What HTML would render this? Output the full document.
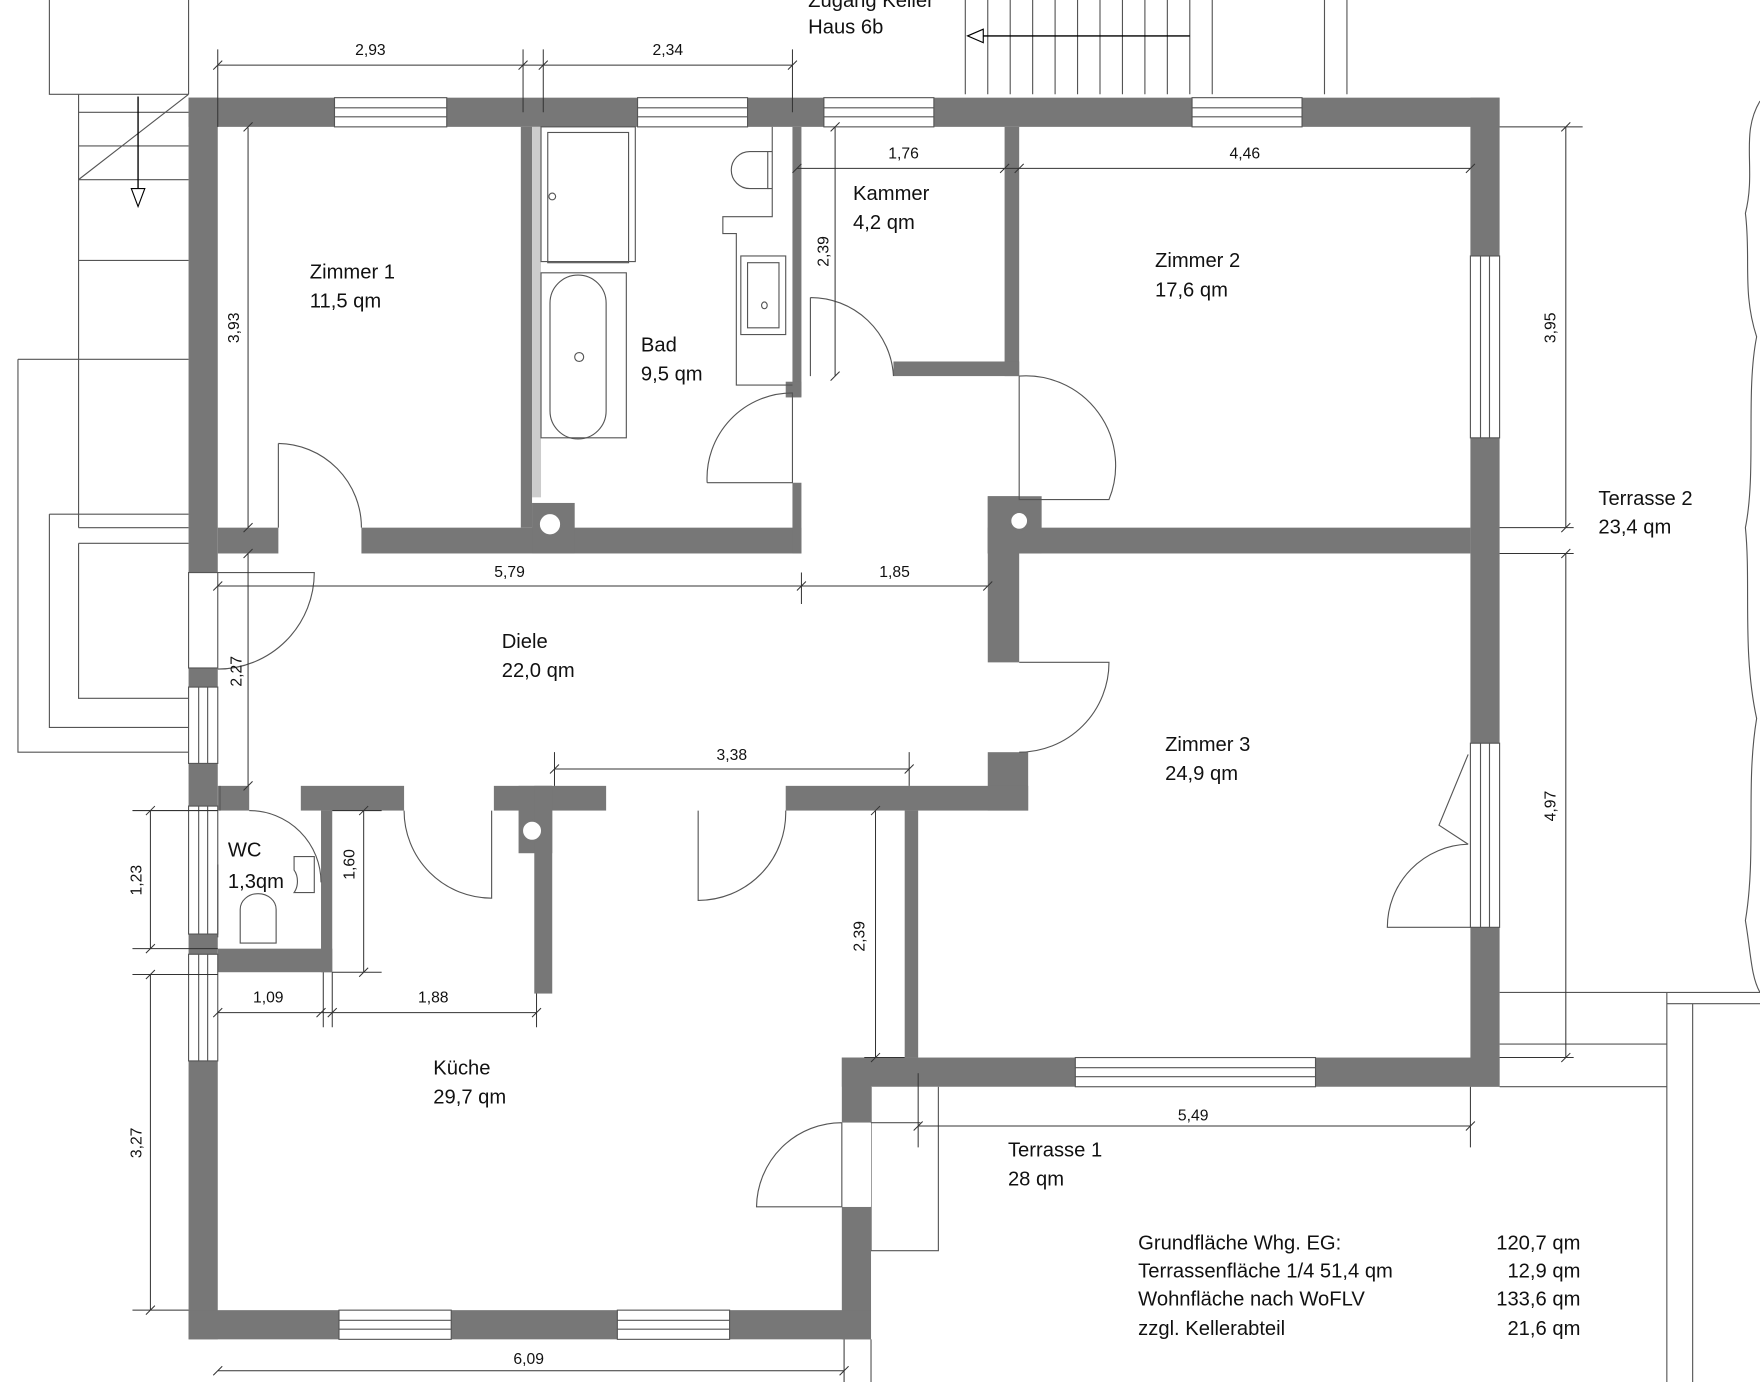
<!DOCTYPE html>
<html><head><meta charset="utf-8"><style>
html,body{margin:0;padding:0;background:#fff;}
svg{display:block;}
text{font-family:"Liberation Sans",sans-serif;fill:#111;}
.l{font-size:18px;}
.d{font-size:14px;}
</style></head><body>
<svg width="1760" height="1382" viewBox="0 0 1568 1231" preserveAspectRatio="none" xmlns="http://www.w3.org/2000/svg">
<g fill="none" stroke="#555" stroke-width="1">
<path d="M44 0V84H168M70 84V470M70 160H168M70 232H168M70 470H168M70 160L168 84"/>
<path d="M70 130H168M70 100H168"/>
<path d="M16 320H168M16 320V670H168M44 458H168M44 458V648H168M70 484H168M70 484V622H168"/>
<path d="M168 0V84M860 0V84M1200 0V84M1180 0V84M880 0V84M900 0V84M920 0V84M940 0V84M960 0V84M980 0V84M1000 0V84M1020 0V84M1040 0V84M1060 0V84M1080 0V84"/>
<path d="M1336 884H1485M1336 930H1485M1336 968H1485M1485 884V1231M1508 894V1231M1485 884H1568M1485 894H1568"/>
<path d="M1568 90C1550 120 1565 150 1555 190C1560 230 1552 260 1565 300C1555 350 1565 420 1555 470C1560 520 1552 580 1565 640C1555 700 1565 760 1555 820C1560 850 1560 870 1568 884"/>
<path d="M776 968V1114H836V968M776 1000H820"/>
<path d="M776 1193V1231"/>
</g>
<path d="M123 86V180" stroke="#000" stroke-width="1.2"/><path d="M117 168L123 184L129 168Z" fill="#fff" stroke="#000"/>
<path d="M1060 32H864" stroke="#000" stroke-width="1.2"/><path d="M876 26L862 32L876 38Z" fill="#fff" stroke="#000"/>
<g fill="#777">
<rect x="168" y="87" width="1168" height="26"/>
<rect x="168" y="87" width="26" height="1106"/>
<rect x="1310" y="87" width="26" height="881"/>
<rect x="750" y="942" width="586" height="26"/>
<rect x="750" y="942" width="26" height="58"/>
<rect x="750" y="1075" width="26" height="118"/>
<rect x="168" y="1167" width="608" height="26"/>
<rect x="464" y="113" width="10" height="357"/>
<rect x="194" y="470" width="54" height="23"/>
<rect x="322" y="470" width="392" height="23"/>
<rect x="474" y="448" width="38" height="45"/>
<rect x="706" y="113" width="8" height="240"/>
<rect x="700" y="340" width="14" height="14"/>
<rect x="706" y="430" width="8" height="63"/>
<rect x="895" y="113" width="13" height="222"/>
<rect x="796" y="322" width="112" height="13"/>
<rect x="880" y="470" width="430" height="23"/>
<rect x="880" y="442" width="48" height="51"/>
<rect x="880" y="442" width="28" height="148"/>
<rect x="880" y="670" width="36" height="52"/>
<rect x="194" y="700" width="28" height="22"/>
<rect x="268" y="700" width="92" height="22"/>
<rect x="440" y="700" width="100" height="22"/>
<rect x="700" y="700" width="216" height="22"/>
<rect x="462" y="700" width="30" height="60"/>
<rect x="476" y="700" width="16" height="185"/>
<rect x="806" y="722" width="12" height="220"/>
<rect x="286" y="722" width="10" height="144"/>
<rect x="194" y="845" width="102" height="21"/>
</g>
<rect x="474" y="113" width="8" height="330" fill="#ccc"/>
<g fill="#fff" stroke="#777" stroke-width="2"><circle cx="490" cy="467" r="10"/><circle cx="908" cy="464" r="8"/><circle cx="474" cy="740" r="9"/></g>
<g fill="#fff" stroke="#555" stroke-width="1">
<rect x="298" y="87" width="100" height="26"/><rect x="568" y="87" width="98" height="26"/><rect x="734" y="87" width="98" height="26"/><rect x="1062" y="87" width="98" height="26"/>
<rect x="1310" y="228" width="26" height="162"/><rect x="1310" y="662" width="26" height="164"/>
<rect x="958" y="942" width="214" height="26"/>
<rect x="302" y="1167" width="100" height="26"/><rect x="550" y="1167" width="100" height="26"/>
<rect x="168" y="510" width="26" height="85"/><rect x="168" y="612" width="26" height="68"/><rect x="168" y="718" width="26" height="114"/><rect x="168" y="850" width="26" height="95"/>
<rect x="750" y="1000" width="26" height="75" stroke="none"/>
</g>
<g stroke="#555" stroke-width="1" fill="none">
<path d="M298 96H398M298 104H398M568 96H666M568 104H666M734 96H832M734 104H832M1062 96H1160M1062 104H1160"/>
<path d="M1319 228V390M1327 228V390M1319 662V826M1327 662V826M958 951H1172M958 959H1172M302 1176H402M302 1184H402M550 1176H650M550 1184H650"/>
<path d="M177 612V680M185 612V680M177 718V832M185 718V832M177 850V945M185 850V945"/>
<path d="M248 395V470M248 395A75 75 0 0 1 322 470"/>
<path d="M194 510H280A86 86 0 0 1 194 596"/>
<path d="M630 430H706V350A76 76 0 0 0 630 430"/>
<path d="M722 265V335M722 265A74 74 0 0 1 796 335"/>
<path d="M908 335V445H988A80 80 0 0 0 908 335"/>
<path d="M908 590H988A80 80 0 0 1 908 670"/>
<path d="M360 722A78 78 0 0 0 438 800V722"/>
<path d="M622 722V802A78 78 0 0 0 700 722"/>
<path d="M222 722A64 64 0 0 1 286 786"/>
<path d="M750 1000V1075H674A76 76 0 0 1 750 1000"/>
<path d="M1310 826H1236A74 74 0 0 1 1308 752M1308 672L1282 735L1308 752"/>
<rect x="482" y="113" width="84" height="120"/><rect x="488" y="118" width="72" height="116"/>
<circle cx="492" cy="175" r="3"/>
<path d="M482 243H558V390H482Z"/><path d="M490 270A25 25 0 0 1 540 270V366A25 25 0 0 1 490 366Z"/><circle cx="516" cy="318" r="4"/>
<path d="M688 113V193H644V208H656V343H706"/><rect x="660" y="228" width="40" height="70"/><rect x="666" y="234" width="28" height="58"/><ellipse cx="681" cy="272" rx="2.5" ry="3"/>
<path d="M684 135V168H668A16 16 0 0 1 668 135Z"/><path d="M684 135H688M684 168H688"/>
<path d="M214 840V810A16 14 0 0 1 246 810V840Z"/><path d="M262 775A10 14 0 0 1 262 795H280V763H262Z"/>
<path d="M194 835V770M196 722V700"/>
</g>
<g stroke="#333" stroke-width="0.9" fill="none">
<path d="M194 58H706M194 44V113M466 44V100M484 44V100M706 44V100M190 62L198 54M462 62L470 54M480 62L488 54M702 62L710 54"/>
<path d="M221 113V470M217 117L225 109M217 474L225 466M221 493V700M217 497L225 489M217 704L225 696"/>
<path d="M194 522H880M190 526L198 518M710 526L718 518M876 526L884 518M714 510V538"/>
<path d="M710 150H908M706 154L714 146M891 154L899 146M904 154L912 146M744 113V335M740 117L748 109M740 339L748 331"/>
<path d="M908 150H1310M1306 154L1314 146"/>
<path d="M1395 113V470M1391 117L1399 109M1391 474L1399 466M1336 470H1402M1395 493V942M1391 497L1399 489M1391 946L1399 938M1336 493H1402M1336 942H1402M1336 113H1410"/>
<path d="M494 685H810M490 689L498 681M806 689L814 681M494 670V700M810 670V700"/>
<path d="M780 722V942M776 726L784 718M776 946L784 938M770 942H806"/>
<path d="M324 722V866M320 726L328 718M320 870L328 862M296 866H340M296 722H340"/>
<path d="M134 722V845M130 726L138 718M130 849L138 841M118 722H194M118 845H194M134 868V1167M130 872L138 864M130 1171L138 1163M118 868H194M118 1167H168"/>
<path d="M194 902H478M190 906L198 898M282 906L290 898M292 906L300 898M474 906L482 898M288 866V915M296 866V915M478 885V915"/>
<path d="M818 1003H1310M814 1007L822 999M1306 1007L1314 999M818 956V1022M1310 968V1022"/>
<path d="M194 1221H752M190 1225L198 1217M748 1225L756 1217M752 1193V1231"/>
</g>
<g class="d">
<text x="330" y="49" text-anchor="middle">2,93</text>
<text x="595" y="49" text-anchor="middle">2,34</text>
<text x="805" y="141" text-anchor="middle">1,76</text>
<text x="1109" y="141" text-anchor="middle">4,46</text>
<text x="454" y="514" text-anchor="middle">5,79</text>
<text x="797" y="514" text-anchor="middle">1,85</text>
<text x="652" y="677" text-anchor="middle">3,38</text>
<text x="1063" y="998" text-anchor="middle">5,49</text>
<text x="239" y="893" text-anchor="middle">1,09</text>
<text x="386" y="893" text-anchor="middle">1,88</text>
<text x="471" y="1215" text-anchor="middle">6,09</text>
<text transform="translate(213,292) rotate(-90)" text-anchor="middle">3,93</text>
<text transform="translate(215,598) rotate(-90)" text-anchor="middle">2,27</text>
<text transform="translate(738,224) rotate(-90)" text-anchor="middle">2,39</text>
<text transform="translate(1386,292) rotate(-90)" text-anchor="middle">3,95</text>
<text transform="translate(1386,718) rotate(-90)" text-anchor="middle">4,97</text>
<text transform="translate(770,834) rotate(-90)" text-anchor="middle">2,39</text>
<text transform="translate(316,770) rotate(-90)" text-anchor="middle">1,60</text>
<text transform="translate(126,784) rotate(-90)" text-anchor="middle">1,23</text>
<text transform="translate(126,1018) rotate(-90)" text-anchor="middle">3,27</text>
</g>
<g class="l">
<text x="720" y="6">Zugang Keller</text><text x="720" y="30">Haus 6b</text>
<text x="276" y="248">Zimmer 1</text><text x="276" y="274">11,5 qm</text>
<text x="571" y="313">Bad</text><text x="571" y="339">9,5 qm</text>
<text x="760" y="178">Kammer</text><text x="760" y="204">4,2 qm</text>
<text x="1029" y="238">Zimmer 2</text><text x="1029" y="264">17,6 qm</text>
<text x="447" y="577">Diele</text><text x="447" y="603">22,0 qm</text>
<text x="1038" y="669">Zimmer 3</text><text x="1038" y="695">24,9 qm</text>
<text x="203" y="763">WC</text><text x="203" y="791">1,3qm</text>
<text x="386" y="957">Küche</text><text x="386" y="983">29,7 qm</text>
<text x="898" y="1030">Terrasse 1</text><text x="898" y="1056">28 qm</text>
<text x="1424" y="450">Terrasse 2</text><text x="1424" y="475">23,4 qm</text>
<text x="1014" y="1113">Grundfläche Whg. EG:</text><text x="1408" y="1113" text-anchor="end">120,7 qm</text>
<text x="1014" y="1138">Terrassenfläche 1/4 51,4 qm</text><text x="1408" y="1138" text-anchor="end">12,9 qm</text>
<text x="1014" y="1163">Wohnfläche nach WoFLV</text><text x="1408" y="1163" text-anchor="end">133,6 qm</text>
<text x="1014" y="1189">zzgl. Kellerabteil</text><text x="1408" y="1189" text-anchor="end">21,6 qm</text>
</g>
</svg>
</body></html>
